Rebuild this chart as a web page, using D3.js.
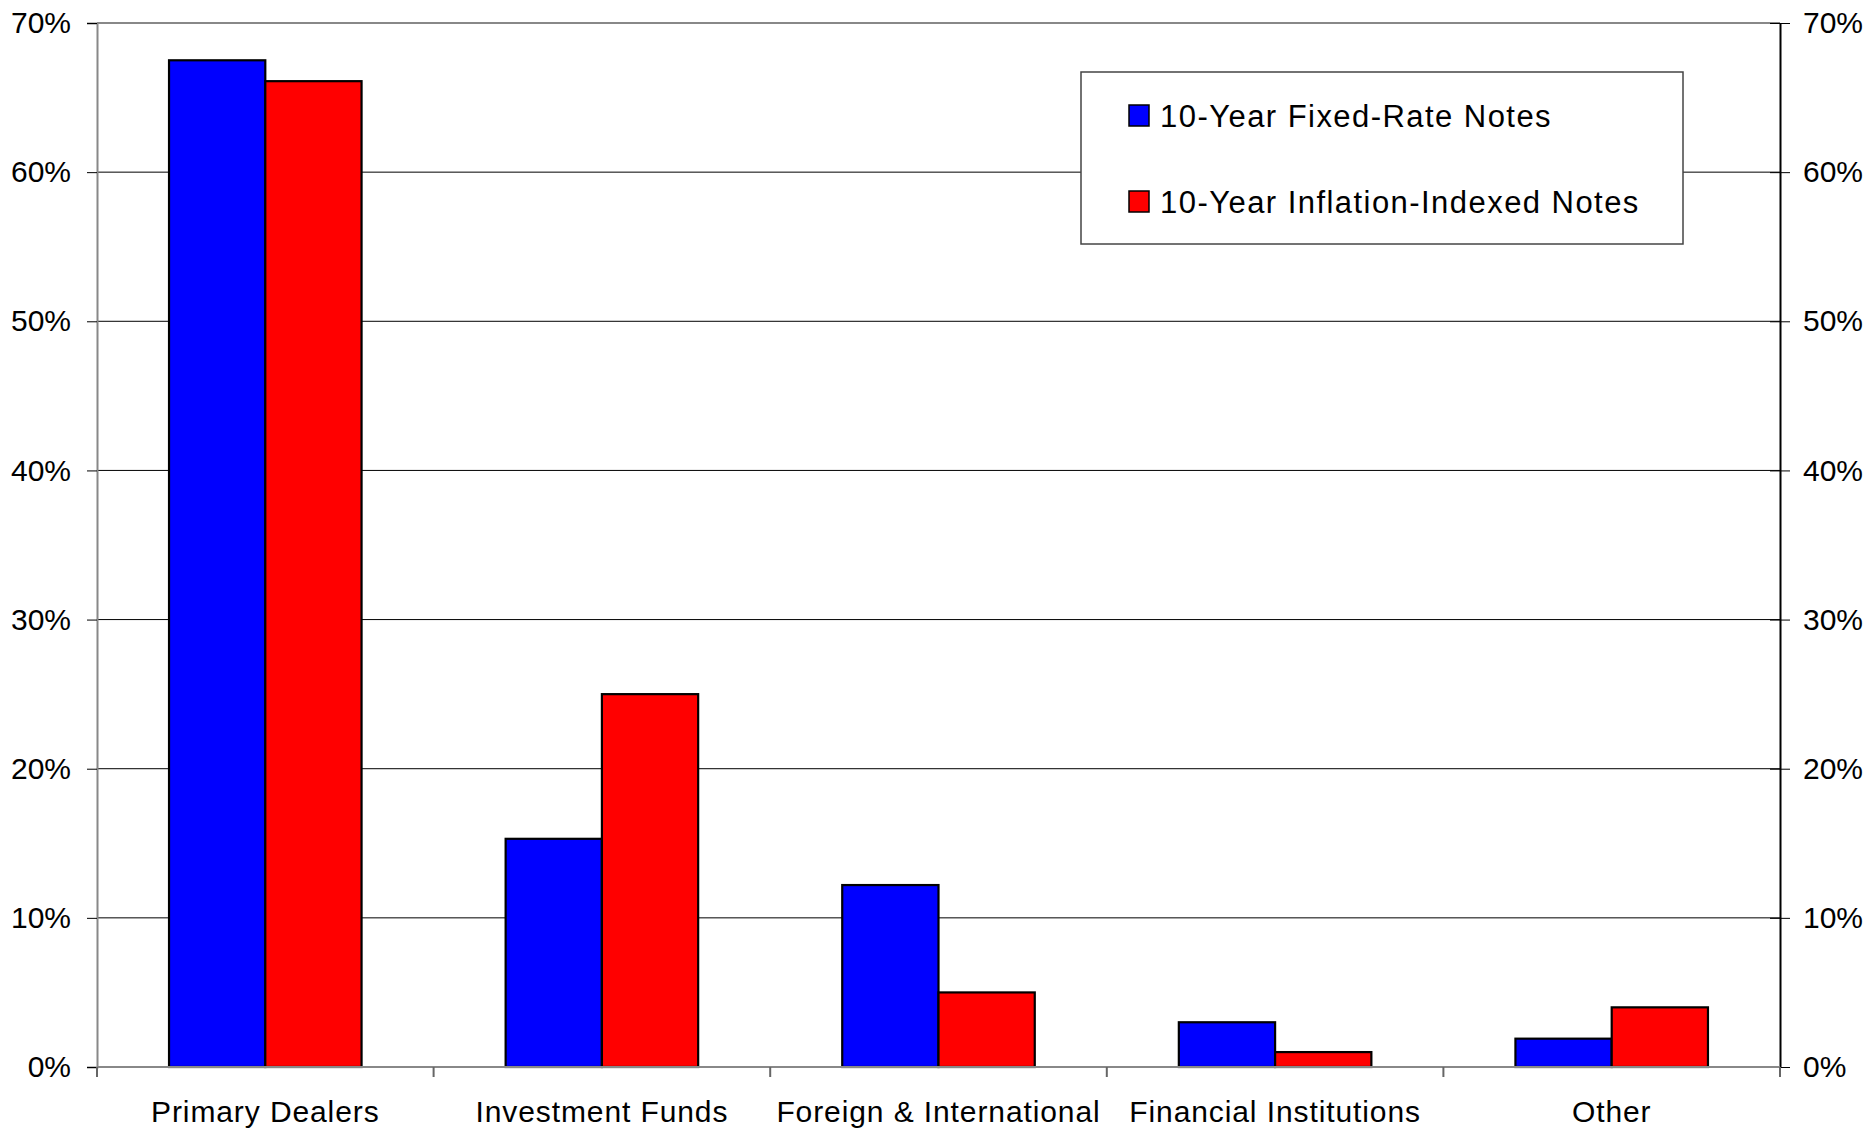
<!DOCTYPE html>
<html>
<head>
<meta charset="utf-8">
<script src="https://cdn.jsdelivr.net/npm/d3@7"></script>
<style>
  html, body { margin: 0; padding: 0; background: #fff; }
  svg { display: block; font-family: "Liberation Sans", Arial, sans-serif; }
</style>
</head>
<body>
<svg id="chart" width="1870" height="1130"></svg>
<script>
// Share of allotments by investor class (percent)
const categories = ["Primary Dealers", "Investment Funds", "Foreign & International", "Financial Institutions", "Other"];
const seriesNames = ["10-Year Fixed-Rate Notes", "10-Year Inflation-Indexed Notes"];
const fixedRate = [67.5, 15.3, 12.2, 3.0, 1.9];
const inflationIndexed = [66.1, 25.0, 5.0, 1.0, 4.0];
const seriesColors = ["#0000ff", "#ff0000"];
const yTicks = [0, 10, 20, 30, 40, 50, 60, 70];

const seriesValues = [fixedRate, inflationIndexed];

const svg = d3.select("#chart");
const plotLeft = 97, plotRight = 1780, plotTop = 23, plotBottom = 1067;

const x0 = d3.scaleBand().domain(categories).range([plotLeft, plotRight])
  .paddingInner(0.428).paddingOuter(0.214);
const x1 = d3.scaleBand().domain(seriesNames).range([0, x0.bandwidth()]);
const y = d3.scaleLinear().domain([0, 70]).range([plotBottom, plotTop]);

// horizontal gridlines
svg.append("g").selectAll("line").data(yTicks.filter(t => t > 0 && t < 70)).join("line")
  .attr("x1", plotLeft).attr("x2", plotRight)
  .attr("y1", d => y(d)).attr("y2", d => y(d))
  .attr("stroke", "#000").attr("stroke-width", 1);

// plot frame: top edge
svg.append("line").attr("x1", plotLeft).attr("x2", plotRight).attr("y1", y(70)).attr("y2", y(70))
  .attr("stroke", "#888").attr("stroke-width", 2);

// bars
const groups = svg.append("g").selectAll("g").data(categories).join("g")
  .attr("transform", c => `translate(${x0(c)},0)`);
groups.selectAll("rect")
  .data((c, i) => seriesNames.map((s, j) => ({ s, j, v: seriesValues[j][i] })))
  .join("rect")
  .attr("x", d => x1(d.s))
  .attr("width", x1.bandwidth())
  .attr("y", d => y(d.v))
  .attr("height", d => y(0) - y(d.v))
  .attr("fill", d => seriesColors[d.j])
  .attr("stroke", "#000").attr("stroke-width", 2.2);

// left axis
const fmt = d => d + "%";
const leftAxis = svg.append("g").attr("transform", `translate(${plotLeft},0)`)
  .call(d3.axisLeft(y).tickValues(yTicks).tickFormat(fmt).tickSize(10).tickPadding(16));
leftAxis.select(".domain").attr("stroke", "#888").attr("stroke-width", 2);
leftAxis.selectAll(".tick line").attr("stroke", "#000");
leftAxis.selectAll("text").attr("font-size", 30).attr("fill", "#000")
  .attr("font-family", "Liberation Sans, Arial, sans-serif");

// right axis
const rightAxis = svg.append("g").attr("transform", `translate(${plotRight},0)`)
  .call(d3.axisRight(y).tickValues(yTicks).tickFormat(fmt).tickSizeInner(10).tickSizeOuter(0).tickPadding(13));
rightAxis.select(".domain").attr("stroke", "#000").attr("stroke-width", 2);
rightAxis.selectAll(".tick line").attr("x1", -10).attr("stroke", "#000");
rightAxis.selectAll("text").attr("font-size", 30).attr("fill", "#000")
  .attr("font-family", "Liberation Sans, Arial, sans-serif");

// category axis: baseline, boundary ticks and labels
svg.append("line").attr("x1", plotLeft).attr("x2", plotRight).attr("y1", y(0)).attr("y2", y(0))
  .attr("stroke", "#888").attr("stroke-width", 2);
const step = x0.step();
const boundaries = d3.range(categories.length + 1).map(i => plotLeft + i * step);
svg.append("g").selectAll("line").data(boundaries).join("line")
  .attr("x1", d => d).attr("x2", d => d)
  .attr("y1", y(0)).attr("y2", y(0) + 10)
  .attr("stroke", "#666").attr("stroke-width", 2);
svg.append("g").selectAll("text").data(categories).join("text")
  .attr("x", c => x0(c) + x0.bandwidth() / 2)
  .attr("y", 1122)
  .attr("text-anchor", "middle")
  .attr("font-size", 30).attr("letter-spacing", 0.9).attr("fill", "#000")
  .text(c => c);

// legend
const legend = svg.append("g");
legend.append("rect").attr("x", 1081).attr("y", 72).attr("width", 602).attr("height", 172)
  .attr("fill", "#fff").attr("stroke", "#444").attr("stroke-width", 1.5);
const items = legend.selectAll("g.item").data(seriesNames).join("g")
  .attr("class", "item")
  .attr("transform", (d, i) => `translate(0,${i * 86})`);
items.append("rect").attr("x", 1129).attr("y", 105).attr("width", 20).attr("height", 21)
  .attr("fill", (d, i) => seriesColors[i]).attr("stroke", "#000").attr("stroke-width", 1.5);
items.append("text").attr("x", 1160).attr("y", 127)
  .attr("font-size", 31).attr("letter-spacing", 1.45).attr("fill", "#000").text(d => d);
</script>
</body>
</html>
